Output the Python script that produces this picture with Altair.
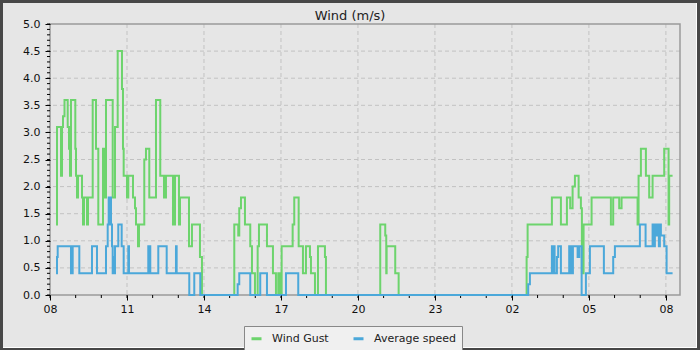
import altair as alt
import pandas as pd

TITLE = "Wind (m/s)"
SERIES = ["Wind Gust", "Average speed"]
COLORS = ["#6dd46d", "#4ba8da"]

X_TICKS = [0, 3, 6, 9, 12, 15, 18, 21, 24]
X_TICK_LABELS = ["08", "11", "14", "17", "20", "23", "02", "05", "08"]
X_MINOR = list(range(0, 25))
X_MAX = 24.55
Y_TICKS = [0.0, 0.5, 1.0, 1.5, 2.0, 2.5, 3.0, 3.5, 4.0, 4.5, 5.0]
Y_MINOR = [round(i * 0.1, 1) for i in range(51)]

# hours after 08:00, value (step-after)
GUST_T = [0.234, 0.273, 0.429, 0.468, 0.506, 0.565, 0.690, 0.740, 0.779, 0.818,
          0.986, 1.013, 1.052, 1.091, 1.247, 1.286, 1.325, 1.442, 1.481, 1.664,
          1.792, 1.882, 2.065, 2.123, 2.182, 2.443, 2.532, 2.638, 2.805, 2.844,
          2.871, 3.000, 3.051, 3.234, 3.312, 3.351, 3.429, 3.468, 3.674, 3.740,
          3.869, 4.130, 4.297, 4.442, 4.519, 4.792, 4.870, 5.026, 5.065, 5.416,
          5.532, 5.844, 5.922, 7.181, 7.336, 7.375, 7.442, 7.597, 7.804, 7.870,
          7.987, 8.092, 8.143, 8.455, 8.688, 8.805, 8.895, 8.973, 9.027, 9.456,
          9.518, 9.690, 9.857, 9.974, 10.130, 10.169, 10.325, 10.442, 10.714, 10.753,
          12.869, 13.064, 13.103, 13.118, 13.453, 13.586, 18.573, 18.612, 19.558, 19.909,
          20.143, 20.271, 20.365, 20.455, 20.599, 20.688, 20.727, 20.793, 21.105, 21.857,
          21.947, 22.181, 22.274, 22.897, 22.936, 23.026, 23.221, 23.349, 23.482, 23.934,
          24.105, 24.128, 24.261]
GUST_V = [1.3, 3.1, 2.2, 3.1, 3.3, 3.6, 3.1, 2.7, 2.2, 3.6,
          2.7, 2.2, 1.8, 2.2, 1.8, 1.3, 1.8, 1.3, 1.8, 3.6,
          2.7, 1.3, 2.7, 1.8, 3.6, 1.8, 3.1, 4.5, 3.8, 2.7,
          2.2, 1.8, 2.2, 1.8, 1.6, 1.3, 0.9, 1.3, 2.5, 2.7,
          1.8, 3.6, 2.2, 1.8, 2.2, 1.3, 2.2, 1.3, 1.8, 0.9,
          1.3, 0.7, 0.0, 1.3, 1.1, 1.6, 1.8, 1.3, 0.9, 0.4,
          0.0, 0.9, 1.3, 0.9, 0.4, 0.0, 0.4, 0.0, 0.9, 1.3,
          1.8, 0.9, 0.4, 0.9, 0.7, 0.4, 0.0, 0.9, 0.7, 0.0,
          1.3, 1.1, 0.4, 0.9, 0.4, 0.0, 0.7, 1.3, 1.8, 1.3,
          1.8, 1.6, 2.0, 2.2, 1.8, 1.6, 0.4, 1.3, 1.8, 1.3,
          1.8, 1.6, 1.8, 1.3, 2.2, 2.7, 2.2, 1.8, 2.2, 2.7,
          1.3, 2.2, 2.2]

AVG_T = [0.234, 0.273, 0.300, 0.818, 0.884, 1.142, 1.636, 1.831, 2.182, 2.248,
         2.287, 2.338, 2.357, 2.377, 2.416, 2.443, 2.474, 2.494, 2.532, 2.661,
         2.793, 2.871, 3.051, 3.078, 3.830, 3.908, 4.220, 4.547, 4.909, 4.936,
         5.427, 5.622, 5.856, 7.313, 7.375, 7.804, 8.193, 8.455, 9.195, 9.674,
         18.635, 18.701, 19.558, 19.597, 19.636, 19.663, 19.753, 19.803, 19.909, 20.232,
         20.260, 20.299, 20.338, 20.377, 20.560, 20.623, 20.717, 20.883, 21.039, 21.584,
         21.947, 22.013, 22.987, 23.209, 23.482, 23.532, 23.571, 23.610, 23.649, 23.727,
         23.766, 23.805, 23.934, 24.028, 24.261]
AVG_V = [0.4, 0.7, 0.9, 0.4, 0.9, 0.4, 0.9, 0.4, 0.9, 1.3,
         1.8, 1.3, 1.8, 1.3, 0.9, 0.4, 0.7, 0.4, 0.9, 1.3,
         0.9, 0.4, 0.9, 0.4, 0.9, 0.4, 0.9, 0.4, 0.9, 0.4,
         0.0, 0.4, 0.0, 0.2, 0.4, 0.0, 0.4, 0.0, 0.4, 0.0,
         0.2, 0.4, 0.9, 0.4, 0.9, 0.4, 0.7, 0.9, 0.4, 0.9,
         0.4, 0.9, 0.4, 0.9, 0.7, 0.9, 0.0, 0.4, 0.9, 0.4,
         0.7, 0.9, 1.3, 0.9, 1.3, 0.9, 1.3, 1.1, 1.3, 0.9,
         1.3, 1.1, 0.9, 0.4, 0.4]

FONT = "DejaVu Sans"
W, H = 630, 271

df = pd.concat([
    pd.DataFrame({"t": GUST_T, "v": GUST_V, "series": SERIES[0]}),
    pd.DataFrame({"t": AVG_T, "v": AVG_V, "series": SERIES[1]}),
], ignore_index=True)

xscale = alt.Scale(domain=[0, X_MAX], nice=False, zero=False)
yscale = alt.Scale(domain=[0, 5], nice=False)

label_map = "{" + ",".join(f"'{v}':'{l}'" for v, l in zip(X_TICKS, X_TICK_LABELS)) + "}"

xaxis = alt.Axis(
    values=X_TICKS, labelExpr=label_map + "[datum.value]", grid=False, domain=False,
    tickSize=5, tickColor="#000000", tickWidth=1, labelFont=FONT, labelFontSize=11,
    labelColor="#111111", labelPadding=3, title=None, zindex=1, labelFlush=False)
yaxis = alt.Axis(
    values=Y_TICKS, format=".1f", grid=False, domain=False, tickSize=5,
    tickColor="#000000", tickWidth=1, labelFont=FONT, labelFontSize=11,
    labelColor="#111111", labelPadding=5, title=None, zindex=1)

one = pd.DataFrame({"k": [0]})

bg_white = alt.Chart(one).mark_rect(color="#ffffff").encode(
    x=alt.value(-47), x2=alt.value(W + 17), y=alt.value(-21), y2=alt.value(H + 53))
bg = alt.Chart(one).mark_rect(color="#e6e6e6").encode(
    x=alt.value(-47), x2=alt.value(W + 16), y=alt.value(-21), y2=alt.value(H + 52))

grid_x = alt.Chart(pd.DataFrame({"t": X_TICKS})).mark_rule(
    color="#c2c2c2", strokeDash=[4, 3], strokeWidth=1).encode(
    x=alt.X("t:Q", scale=xscale, axis=xaxis))
grid_y = alt.Chart(pd.DataFrame({"v": Y_TICKS[1:-1]})).mark_rule(
    color="#c2c2c2", strokeDash=[4, 3], strokeWidth=1).encode(
    y=alt.Y("v:Q", scale=yscale, axis=yaxis))

border = alt.Chart(one).mark_rect(fill="transparent", stroke="#9a9a9a", strokeWidth=1.5).encode(
    x=alt.value(0), x2=alt.value(W), y=alt.value(0), y2=alt.value(H))

minor_x = alt.Chart(pd.DataFrame({"t": X_MINOR})).mark_rule(color="#000000", strokeWidth=1).encode(
    x=alt.X("t:Q", scale=xscale, axis=xaxis), y=alt.value(H), y2=alt.value(H + 3))
minor_y = alt.Chart(pd.DataFrame({"v": Y_MINOR})).mark_rule(color="#000000", strokeWidth=1).encode(
    y=alt.Y("v:Q", scale=yscale, axis=yaxis), x=alt.value(-3), x2=alt.value(0))

lines = alt.Chart(df).mark_line(interpolate="step-after", strokeWidth=2).encode(
    x=alt.X("t:Q", scale=xscale, axis=xaxis),
    y=alt.Y("v:Q", scale=yscale, axis=yaxis),
    color=alt.Color("series:N", scale=alt.Scale(domain=SERIES, range=COLORS), legend=alt.Legend(
        title=None, orient="none", legendX=194, legendY=302, direction="horizontal",
        symbolType="stroke", symbolSize=100, symbolStrokeWidth=3, labelFont=FONT,
        labelFontSize=11, labelColor="#222222", labelOffset=9, columnPadding=18,
        padding=6, strokeColor="#888888", fillColor="#f0f0f0")),
)

title = alt.Chart(pd.DataFrame({"t": [TITLE]})).mark_text(
    font=FONT, fontSize=13, color="#222222", baseline="alphabetic", align="center").encode(
    text="t:N", x=alt.value(300), y=alt.value(-4))

chart = alt.layer(bg_white, bg, grid_x, grid_y, border, minor_x, minor_y, lines, title).properties(
    width=W, height=H, padding={"left": 50, "top": 24, "right": 20, "bottom": 55},
    autosize=alt.AutoSizeParams(type="none"),
).configure(background="#474747", font=FONT).configure_view(strokeWidth=0)

chart.save("out.html", embed_options={"renderer": "svg", "actions": False})
